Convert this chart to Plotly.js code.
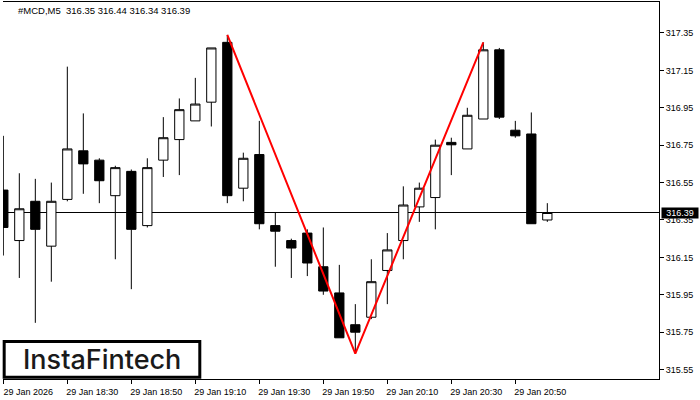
<!DOCTYPE html>
<html>
<head>
<meta charset="utf-8">
<script src="https://cdn.plot.ly/plotly-3.0.1.min.js"></script>
<style>html,body{margin:0;padding:0;background:#fff;}#chart{width:700px;height:400px;}</style>
</head>
<body>
<div id="chart"></div>
<script>
// ---- data ----
var symbol = "#MCD";
var timeframe = "M5";
var times = ["18:10","18:15","18:20","18:25","18:30","18:35","18:40","18:45","18:50","18:55",
             "19:00","19:05","19:10","19:15","19:20","19:25","19:30","19:35","19:40","19:45",
             "19:50","19:55","20:00","20:05","20:10","20:15","20:20","20:25","20:30","20:35",
             "20:40","20:45","20:50","20:55","21:00"];
var opens  = [316.51,316.24,316.45,316.21,316.46,316.72,316.67,316.48,316.61,316.32,
              316.67,316.78,316.88,316.98,317.30,316.52,316.70,316.32,316.24,316.28,
              316.10,315.96,315.79,315.83,316.08,316.24,316.42,316.47,316.765,316.73,
              316.89,317.26,316.83,316.81,316.35];
var highs  = [316.80,316.60,316.57,316.55,317.17,316.92,316.68,316.64,316.62,316.68,
              316.90,317.00,317.11,317.27,317.34,316.71,316.88,316.39,316.25,316.30,
              316.31,316.11,315.90,316.14,316.28,316.53,316.55,316.78,316.79,316.95,
              317.30,317.27,316.88,316.925,316.44];
var lows   = [316.16,316.04,315.80,316.02,316.45,316.49,316.44,316.14,315.98,316.31,
              316.58,316.59,316.88,316.85,316.44,316.45,316.30,316.10,316.04,316.05,
              315.95,315.72,315.635,315.82,315.90,316.14,316.34,316.30,316.59,316.73,
              316.89,316.89,316.79,316.33,316.34];
var closes = [316.31,316.41,316.30,316.45,316.73,316.65,316.56,316.63,316.30,316.63,
              316.79,316.94,316.97,317.27,316.48,316.68,316.33,316.29,316.20,316.12,
              315.97,315.72,315.75,316.02,316.19,316.43,316.52,316.75,316.752,316.91,
              317.26,316.90,316.80,316.33,316.39];
var tickTimes  = ["18:10","18:30","18:50","19:10","19:30","19:50","20:10","20:30","20:50"];
var tickLabels = ["29 Jan 2026","29 Jan 18:30","29 Jan 18:50","29 Jan 19:10","29 Jan 19:30",
                  "29 Jan 19:50","29 Jan 20:10","29 Jan 20:30","29 Jan 20:50"];
// pattern pivots (double top): indices of high, low, high
var patternIdx = [14, 22, 30];
var logoText = "InstaFintech";

// ---- build ----
var last = closes.length - 1;
var titleText = symbol + "," + timeframe + "\u00a0 " +
  [opens[last], highs[last], lows[last], closes[last]].map(function(v){return v.toFixed(2);}).join(" ");

var patX = patternIdx.map(function(i){return times[i];});
var patY = [highs[patternIdx[0]], lows[patternIdx[1]], highs[patternIdx[2]]];

var font9 = {family: "Liberation Sans, Arial, sans-serif", size: 9, color: "#000"};

var data = [
  {
    type: "candlestick",
    x: times, open: opens, high: highs, low: lows, close: closes,
    increasing: {line: {color: "#000", width: 1}, fillcolor: "#fff"},
    decreasing: {line: {color: "#000", width: 1}, fillcolor: "#000"},
    whiskerwidth: 0,
    hoverinfo: "skip",
    showlegend: false
  },
  {
    type: "scatter", mode: "lines",
    x: patX, y: patY,
    line: {color: "#ff0000", width: 2},
    hoverinfo: "skip", showlegend: false
  }
];

var layout = {
  width: 700, height: 400,
  margin: {l: 3, r: 41, t: 2, b: 21, pad: 0},
  paper_bgcolor: "#fff", plot_bgcolor: "#fff",
  showlegend: false,
  boxgap: 0.42, boxgroupgap: 0,
  title: {
    text: titleText, xref: "container", yref: "container",
    x: 18/700, xanchor: "left", y: 1 - 10.5/400, yanchor: "middle",
    font: {family: "Liberation Sans, Arial, sans-serif", size: 9.5, color: "#000"}
  },
  xaxis: {
    type: "category",
    range: [-0.02, 40.98],
    showgrid: false, zeroline: false,
    showline: true, mirror: true, linecolor: "#000", linewidth: 1,
    ticks: "outside", ticklen: 4, tickcolor: "#000", tickwidth: 1,
    tickvals: tickTimes, ticktext: tickLabels,
    tickfont: font9, ticklabelshift: 25,
    rangeslider: {visible: false},
    fixedrange: true
  },
  yaxis: {
    side: "right",
    range: [315.4997, 317.5157],
    tick0: 315.55, dtick: 0.2, tickformat: ".2f",
    showgrid: false, zeroline: false,
    showline: true, linecolor: "#000", linewidth: 1,
    ticks: "outside", ticklen: 4, tickcolor: "#000", tickwidth: 1,
    tickfont: font9,
    fixedrange: true
  },
  shapes: [
    {type: "line", xref: "paper", x0: 0, x1: 1, yref: "y", y0: closes[last], y1: closes[last],
     line: {color: "#000", width: 1}, layer: "below"},
    {type: "rect", xref: "paper", yref: "paper", x0: 0.0018, x1: 0.300, y0: 0.0048, y1: 0.0995,
     line: {color: "#000", width: 3}, fillcolor: "#fff", layer: "above"}
  ],
  annotations: [
    {xref: "paper", yref: "paper", x: 0.1509, y: 0.052, xanchor: "center", yanchor: "middle",
     text: logoText, showarrow: false,
     font: {family: "Inter, sans-serif", size: 27, weight: 500, color: "#1a1a1a"}},
    {xref: "paper", x: 1, xanchor: "left", xshift: 2, yref: "y", y: closes[last], yanchor: "middle",
     text: closes[last].toFixed(2), showarrow: false, bgcolor: "#000",
     width: 36, height: 10, borderpad: 0, align: "center",
     font: {family: "Liberation Sans, Arial, sans-serif", size: 9, color: "#fff"}}
  ]
};

Plotly.newPlot("chart", data, layout, {staticPlot: true, displayModeBar: false});
</script>
</body>
</html>
